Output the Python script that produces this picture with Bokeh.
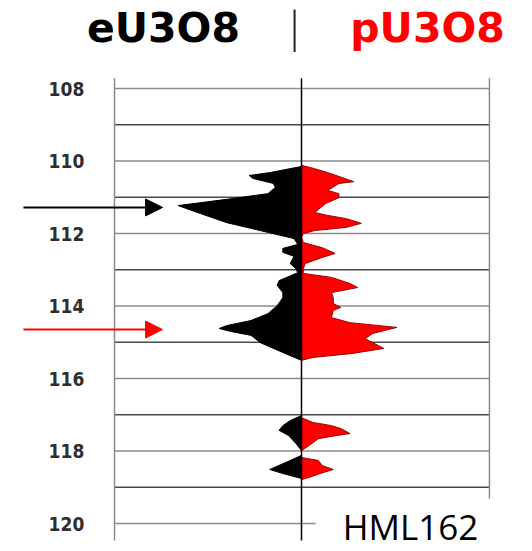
import numpy as np
from bokeh.plotting import figure
from bokeh.models import Range1d, Arrow, NormalHead, ColumnDataSource
from bokeh.core.properties import value
from bokeh.embed import file_html
from bokeh.resources import INLINE

# ---- data ----
tick_depths = [108, 110, 112, 114, 116, 118, 120]
tick_labels = ["108", "110", "112", "114", "116", "118", "120"]
grid_even = [108, 110, 112, 114, 116, 118, 120]
grid_odd = [109, 111, 113, 115, 117, 119]

# eU3O8 profile (plotted to the left of the centre line)
eu_depth = [110.15, 110.32, 110.40, 110.48, 110.62, 110.73, 110.90, 111.03, 111.23,
            111.45, 111.70, 111.92, 112.14, 112.30, 112.41, 112.52, 112.63, 112.83,
            112.97, 113.08, 113.30, 113.43, 113.63, 113.77, 113.99, 114.21, 114.40,
            114.54, 114.62, 114.70, 114.81, 115.01, 115.17, 115.37, 115.50,
            117.02, 117.16, 117.30, 117.43, 117.57, 117.79, 117.99,
            118.12, 118.26, 118.51, 118.62, 118.76]
eu_value = [0.00, 0.17, 0.28, 0.26, 0.15, 0.14, 0.18, 0.36, 0.66,
            0.54, 0.40, 0.22, 0.04, 0.02, 0.10, 0.10, 0.04, 0.06,
            0.03, 0.02, 0.12, 0.13, 0.10, 0.10, 0.13, 0.18, 0.27,
            0.40, 0.44, 0.38, 0.27, 0.22, 0.15, 0.06, 0.00,
            0.00, 0.06, 0.10, 0.12, 0.07, 0.03, 0.00,
            0.00, 0.06, 0.17, 0.10, 0.00]

# pU3O8 profile (plotted to the right of the centre line)
pu_depth = [110.12, 110.21, 110.32, 110.46, 110.57, 110.62, 110.81, 110.90, 111.01,
            111.17, 111.42, 111.50, 111.59, 111.72, 111.83, 111.92, 112.00, 112.11,
            112.25, 112.39, 112.55, 112.66, 112.83, 112.97, 113.10, 113.21, 113.38,
            113.49, 113.63, 113.77, 113.93, 114.04, 114.12, 114.32, 114.46, 114.59,
            114.76, 114.90, 115.17, 115.31, 115.42, 115.50,
            117.08, 117.21, 117.30, 117.38, 117.52, 117.57, 117.66, 117.85, 117.99,
            118.18, 118.26, 118.40, 118.51, 118.62, 118.73, 118.79]
pu_value = [0.00, 0.07, 0.14, 0.22, 0.28, 0.20, 0.14, 0.20, 0.20,
            0.13, 0.07, 0.14, 0.24, 0.32, 0.24, 0.07, 0.01, 0.00,
            0.01, 0.11, 0.18, 0.11, 0.02, 0.01, 0.01, 0.16, 0.26,
            0.30, 0.16, 0.17, 0.17, 0.21, 0.17, 0.16, 0.26, 0.51,
            0.38, 0.34, 0.44, 0.27, 0.06, 0.00,
            0.00, 0.06, 0.16, 0.21, 0.26, 0.19, 0.09, 0.04, 0.00,
            0.00, 0.09, 0.11, 0.17, 0.10, 0.04, 0.00]

well_name = "HML162"
left_title = "eU3O8"
right_title = "pU3O8"

# ---- figure: the frame covers the whole canvas ----
TOP, BOTTOM = 107.72, 120.47
p = figure(width=532, height=551, output_backend="svg", toolbar_location=None,
           x_range=Range1d(-1.6096, 1.2353), y_range=Range1d(120.772, 105.572),
           x_axis_location=None, y_axis_location=None,
           min_border=0, min_border_left=0, min_border_right=0,
           min_border_top=0, min_border_bottom=0)
p.outline_line_color = None
p.xgrid.visible = False
p.ygrid.visible = False
p.background_fill_color = "white"
p.border_fill_color = "white"

# depth tick labels
p.text(x=-1.257, y=tick_depths, text=tick_labels, text_align="center",
       text_baseline="middle", text_font=value("DejaVu Sans Condensed"),
       text_font_style="bold", text_font_size="19px", text_color="#2e2e2e")

# horizontal depth lines
p.segment(x0=-1.0, x1=1.005, y0=grid_even, y1=grid_even, line_color="#8c8c8c", line_width=1.5)
p.segment(x0=-1.0, x1=1.005, y0=grid_odd, y1=grid_odd, line_color="#4a4a4a", line_width=1.5)
# left and right border lines
p.segment(x0=[-1.0, 1.005], x1=[-1.0, 1.005], y0=[TOP, TOP], y1=[BOTTOM, BOTTOM],
          line_color="#8a8a8a", line_width=1.5)

eu = ColumnDataSource(dict(d=eu_depth, v=(-np.array(eu_value)).tolist()))
pu = ColumnDataSource(dict(d=pu_depth, v=pu_value))
p.harea(y="d", x1=0, x2="v", source=eu, fill_color="black")
p.line(x="v", y="d", source=eu, line_color="black", line_width=1)
p.harea(y="d", x1=0, x2="v", source=pu, fill_color="#ff0000")
p.line(x="v", y="d", source=pu, line_color="#9a0000", line_width=1)

# centre line
p.segment(x0=[0], x1=[0], y0=[TOP], y1=[BOTTOM], line_color="black", line_width=1.5)

# white label box bottom right with the well name
p.quad(left=[0.075], right=[1.2353], top=[119.31], bottom=[120.772],
       fill_color="white", line_alpha=0)
p.text(x=[0.583], y=[120.08], text=[well_name], text_align="center",
       text_baseline="alphabetic", text_font=value("Open Sans"),
       text_font_size="35px", text_color="black")

# arrows pointing at peak depths
eu_peak = eu_depth[int(np.argmax(eu_value))]
pu_peak = pu_depth[int(np.argmax(pu_value))]
for dep, col in [(eu_peak + 0.05, "black"), (pu_peak + 0.06, "#ff0000")]:
    p.add_layout(Arrow(end=NormalHead(size=17, fill_color=col, line_color=col),
                       x_start=-1.487, y_start=dep, x_end=-0.743, y_end=dep,
                       line_color=col, line_width=2))

# titles
p.text(x=[-0.738], y=[106.32], text=[left_title], text_align="center",
       text_baseline="alphabetic", text_font=value("DejaVu Sans"),
       text_font_style="bold", text_font_size="41px", text_color="black")
p.text(x=[0.674], y=[106.32], text=[right_title], text_align="center",
       text_baseline="alphabetic", text_font=value("DejaVu Sans"),
       text_font_style="bold", text_font_size="41px", text_color="#ff0000")
p.segment(x0=[-0.037], x1=[-0.037], y0=[105.82], y1=[106.99],
          line_color="#222222", line_width=2)

open("out.html", "w").write(file_html(p, INLINE))
